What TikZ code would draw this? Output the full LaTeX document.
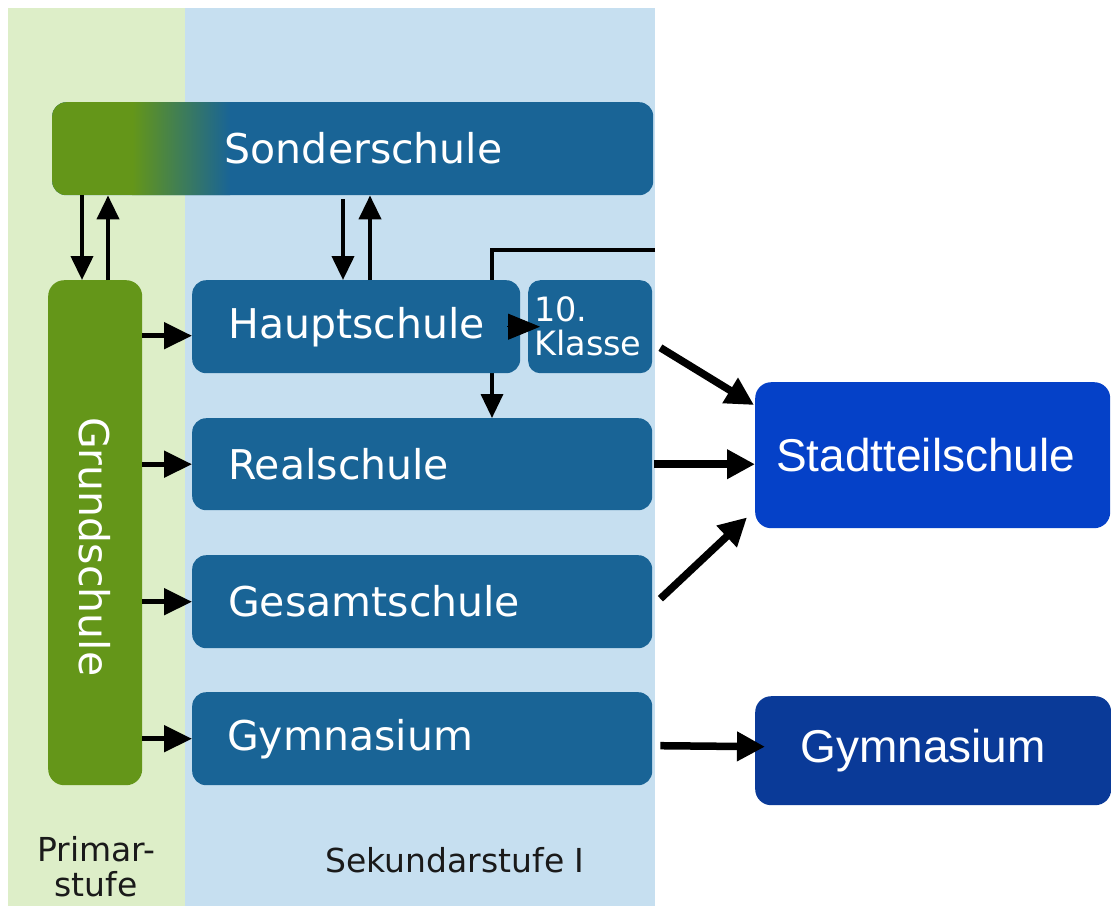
\documentclass[tikz,border=0pt]{standalone}
\usepackage{fontspec}
\setmainfont{DejaVu Sans}
\newfontfamily\arialf{Liberation Sans}
\usetikzlibrary{arrows.meta}
\definecolor{bgreen}{HTML}{DDEEC8}
\definecolor{bblue}{HTML}{C6DFF0}
\definecolor{boxblue}{HTML}{196496}
\definecolor{gruen}{HTML}{649619}
\definecolor{stblue}{HTML}{0541C8}
\definecolor{gyblue}{HTML}{0A3A98}
\definecolor{labeltext}{HTML}{1A1A1A}
\begin{document}
\begin{tikzpicture}[x=1pt,y=-1pt,
  box/.style={rounded corners=14pt, fill=boxblue, text=white, inner sep=0pt, anchor=north west,
    font=\fontsize{41}{45}\selectfont},
  rbox/.style={rounded corners=16pt, text=white, inner sep=0pt, anchor=north west,
    font=\arialf\fontsize{46}{50}\selectfont},
  lbl/.style={text=labeltext, font=\fontsize{33}{35}\selectfont, inner sep=0pt, align=center},
  garrow/.style={line width=5pt, -{Triangle[length=28pt,width=26pt]}},
  varrow/.style={line width=4pt, -{Triangle[length=24pt,width=22pt]}},
  rarrow/.style={line width=7.5pt, -{Triangle[length=28pt,width=28pt]}},
  thinline/.style={line width=3.5pt, -{Triangle[length=24pt,width=22pt]}}
]
\useasboundingbox (0,0) rectangle (1111,906);
\fill[white] (0,0) rectangle (1111,906);
\fill[bgreen] (8,8) rectangle (185,906);
\fill[bblue] (185,8) rectangle (655,906);

% connector running behind the Hauptschule box
\coordinate (lstart) at (655,250);
\coordinate (cx5) at (492,0);
\node[box, minimum width=460pt, minimum height=92pt, align=left, text width=388pt] (real) at (192,418) {Realschule};
\draw[thinline] (lstart) -| (real.north -| cx5);

% boxes
\node[box, minimum width=601pt, minimum height=93pt,
  path picture={
    \fill[gruen, sharp corners] (path picture bounding box.north west) rectangle ([xshift=80pt]path picture bounding box.south west);
    \shade[left color=gruen, right color=boxblue, sharp corners] ([xshift=80pt]path picture bounding box.north west) rectangle ([xshift=178pt]path picture bounding box.south west);
  }] (sonder) at (52,102) {\hspace*{22pt}Sonderschule};
\node[box, fill=gruen, minimum width=94pt, minimum height=505pt, rounded corners=16pt] (grund) at (48,280) {};
\node[text=white, rotate=-90, font=\fontsize{41}{45}\selectfont, inner sep=0pt] at ([yshift=-14pt]grund.center) {Grundschule};
\node[box, minimum width=328pt, minimum height=93pt, align=left, text width=256pt] (haupt) at (192,280) {Hauptschule};
\node[box, minimum width=124pt, minimum height=93pt, rounded corners=12pt, align=left, text width=112pt,
  font=\fontsize{33.5}{34}\selectfont] (klasse) at (528,280) {10.\\Klasse};
\node[box, minimum width=460pt, minimum height=93pt, align=left, text width=388pt] (gesamt) at (192,555) {Gesamtschule};
\node[box, minimum width=460pt, minimum height=93pt, align=left, text width=390pt] (gym1) at (192,692) {Gymnasium\\[8pt]};
\node[rbox, fill=stblue, minimum width=355pt, minimum height=146pt] (stadt) at (755,382) {Stadtteilschule\hspace*{14pt}\raisebox{18pt}{}};
\node[rbox, fill=gyblue, minimum width=356pt, minimum height=109pt] (gym2) at (755,696) {Gymnasium\hspace*{20pt}};

% labels
\node[lbl] (primar) at (96,867) {Primar-\\stufe};
\node[lbl] (sek) at (455,860) {Sekundarstufe I};

% Sonderschule <-> Grundschule / Hauptschule
\coordinate (c1) at (82,0);
\coordinate (c2) at (108,0);
\coordinate (c3) at (343,0);
\coordinate (c4) at (370,0);
\draw[varrow] (sonder.south -| c1) -- (grund.north -| c1);
\draw[varrow] (grund.north -| c2) -- (sonder.south -| c2);
\draw[varrow] ([yshift=-4pt]sonder.south -| c3) -- (haupt.north -| c3);
\draw[varrow] (haupt.north -| c4) -- (sonder.south -| c4);

% Grundschule -> secondary schools
\draw[garrow] ([yshift=-9pt]grund.east |- haupt.west) -- ([yshift=-9pt]haupt.west);
\draw[garrow] (grund.east |- real.west) -- (real.west);
\draw[garrow] (grund.east |- gesamt.west) -- (gesamt.west);
\draw[garrow] (grund.east |- gym1.west) -- (gym1.west);

% Hauptschule -> 10. Klasse
\draw[-{Triangle[length=32pt,width=26pt]}, line width=1pt] ([xshift=-13pt]haupt.east) -- ([xshift=12pt]klasse.west);

% to the right
\draw[rarrow] ([shift={(8pt,-21pt)}]klasse.east) -- ([shift={(-1pt,-23pt)}]stadt.north west);
\draw[rarrow] ([xshift=2pt]real.east) -- (stadt.west |- real.east);
\draw[rarrow] ([shift={(8pt,3pt)}]gesamt.east) -- ([shift={(-8pt,11pt)}]stadt.south west);
\draw[rarrow] ([shift={(8pt,-7pt)}]gym1.east) -- ([shift={(10pt,4pt)}]gym2.west);
\end{tikzpicture}
\end{document}
